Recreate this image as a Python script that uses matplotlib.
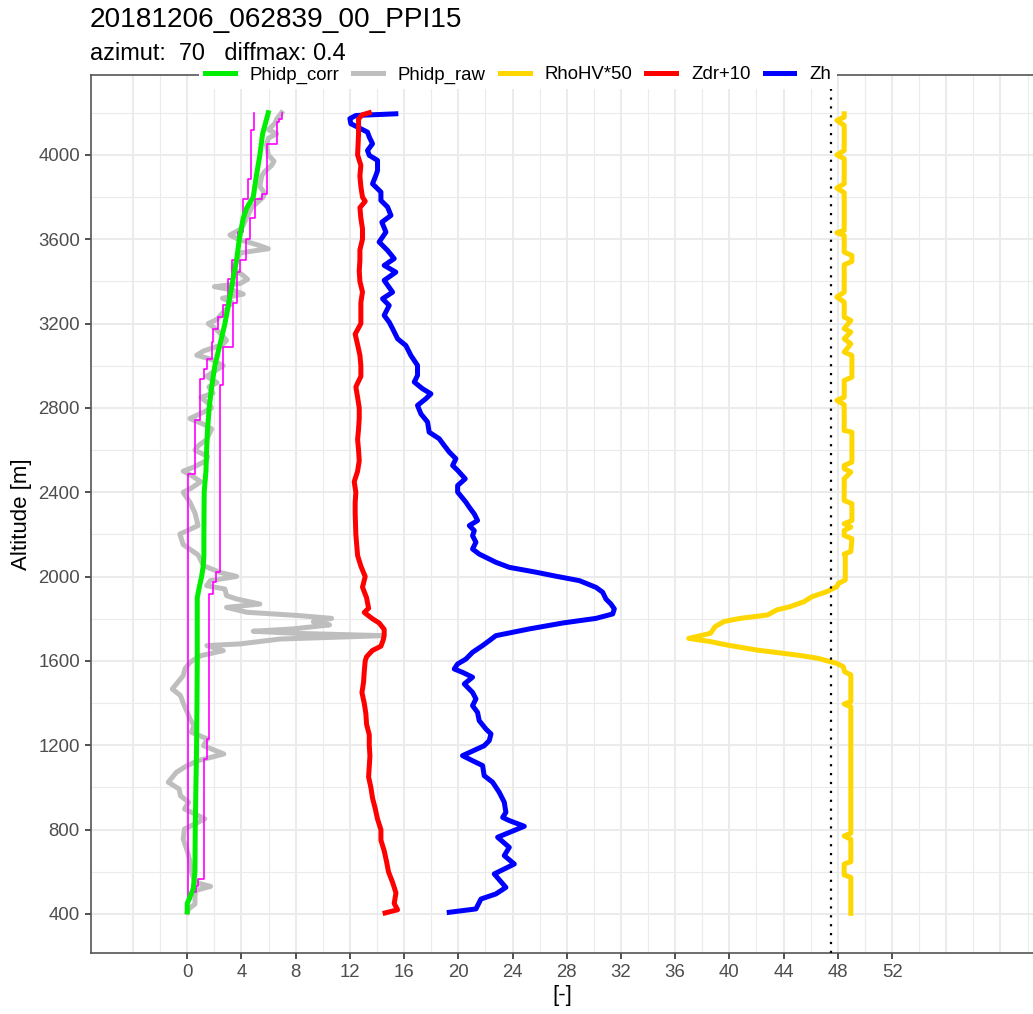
import matplotlib.pyplot as plt
from matplotlib.lines import Line2D

plt.rcParams['font.family'] = ['Liberation Sans', 'DejaVu Sans']

# ---- data ----
title = "20181206_062839_00_PPI15"
subtitle = "azimut:  70   diffmax: 0.4"

# Phidp_corr (green)
alt_corr = [4200, 4100, 4000, 3900, 3800, 3750, 3700, 3600, 3500, 3400, 3300, 3200, 3100,
            3000, 2900, 2800, 2700, 2600, 2500, 2400, 2200, 2100, 2050, 2000, 1950, 1900,
            1600, 1400, 1200, 1000, 800, 600, 520, 480, 450, 410]
phidp_corr = [5.98, 5.56, 5.36, 5.1, 4.87, 4.4, 4.13, 3.84, 3.64, 3.35, 3.07, 2.78, 2.41,
              2.04, 1.8, 1.62, 1.5, 1.43, 1.38, 1.25, 1.23, 1.23, 1.18, 1.06, 0.89, 0.74,
              0.74, 0.72, 0.69, 0.64, 0.59, 0.57, 0.44, 0.2, 0.0, 0.0]

# envelope of Phidp_corr (magenta steps): each value holds from its altitude down to the next
alt_env_hi = [4200, 4172, 4156, 4053, 3816, 3792, 3700, 3600, 3500, 3444, 3299, 3089, 2907,
              2020, 1973, 1918, 1230, 1135, 566, 534, 503, 470, 410]
env_hi = [6.96, 6.8, 6.6, 5.9, 5.49, 5.0, 4.6, 4.3, 3.89, 3.64, 3.4, 2.66, 2.41,
          2.12, 1.87, 1.62, 1.48, 1.23, 0.81, 0.64, 0.3, 0.05, 0.05]
alt_env_lo = [4200, 4116, 3887, 3792, 3634, 3500, 3413, 3286, 3231, 3176, 3112, 3033, 2986,
              2938, 2741, 2488, 410]
env_lo = [4.92, 4.67, 4.5, 4.13, 3.75, 3.27, 3.03, 2.66, 2.29, 1.92, 1.8, 1.43, 1.23,
          0.93, 0.57, 0.03, 0.03]

# Phidp_raw (grey)
alt_raw = [4200, 4170, 4150, 4120, 4100, 4080, 4050, 4000, 3970, 3950, 3920, 3900, 3850, 3820,
           3800, 3750, 3700, 3650, 3620, 3600, 3575, 3555, 3535, 3500, 3460, 3430, 3410, 3390,
           3375, 3360, 3340, 3320, 3300, 3270, 3250, 3220, 3200, 3180, 3150, 3120, 3100, 3070,
           3050, 3030, 3000, 2970, 2950, 2920, 2900, 2870, 2850, 2820, 2800, 2780, 2750, 2720,
           2700, 2650, 2620, 2600, 2570, 2550, 2520, 2500, 2480, 2450, 2420, 2400, 2352, 2302,
           2242, 2202, 2152, 2103, 2052, 2020, 2001, 1981, 1957, 1941, 1910, 1894, 1870, 1854,
           1831, 1815, 1802, 1786, 1771, 1752, 1741, 1731, 1720, 1704, 1681, 1673, 1649, 1625,
           1594, 1562, 1530, 1491, 1467, 1436, 1401, 1357, 1325, 1293, 1262, 1230, 1198, 1159,
           1127, 1104, 1072, 1025, 993, 961, 930, 898, 851, 803, 756, 700, 650, 601, 550, 531,
           511, 479, 447, 424, 408]
phidp_raw = [6.96, 6.6, 6.47, 6.0, 6.6, 6.0, 5.85, 5.98, 6.4, 6.22, 5.7, 5.49, 5.36, 5.7,
             5.61, 4.75, 4.38, 4.0, 3.15, 3.76, 5.1, 5.98, 3.89, 3.64, 3.4, 4.1, 4.45, 3.9,
             2.0, 3.3, 4.13, 2.6, 3.3, 2.9, 2.6, 2.2, 1.55, 2.0, 2.5, 2.9, 2.6, 1.2,
             0.7, 1.8, 2.66, 1.9, 1.43, 2.2, 1.6, 1.9, 1.0, 1.6, 1.8, 1.2, 0.2, 1.3,
             1.8, 1.43, 0.8, 0.57, 1.5, 1.4, 0.5, -0.3, 0.3, 1.0, 0.3, -0.3, 0.2, 0.57,
             0.8, -0.54, -0.3, 0.8, 1.2, 2.41, 3.64, 1.7, 1.43, 2.78, 2.9, 3.64, 5.36, 2.9,
             4.4, 8.3, 10.65, 9.3, 10.5, 7.8, 4.87, 8.0, 14.47, 6.84, 3.9, 1.45, 2.66, 1.0,
             0.2, -0.17, -0.3, -0.8, -1.1, -0.5, -0.3, 0.0, 0.2, 0.5, 0.3, 1.5, 1.2, 2.7,
             0.8, 0.0, -0.8, -1.4, -0.6, -0.5, 0.1, -0.2, 1.3, -0.2, -0.3, 0.0, 0.2, 0.3, 0.57, 1.72,
             0.6, 0.57, 0.57, 0.1, 0.0]

# Zdr+10 (red)
alt_zdr = [4200, 4190, 4170, 4100, 4000, 3950, 3900, 3850, 3800, 3780, 3750, 3700, 3650, 3600,
           3550, 3500, 3450, 3400, 3350, 3300, 3250, 3200, 3150, 3100, 3050, 3000, 2950, 2900,
           2850, 2800, 2750, 2700, 2650, 2600, 2550, 2500, 2450, 2400, 2350, 2300, 2200, 2100,
           2050, 2000, 1950, 1900, 1850, 1830, 1800, 1780, 1750, 1720, 1700, 1670, 1650, 1620,
           1600, 1550, 1500, 1450, 1400, 1350, 1300, 1250, 1200, 1150, 1100, 1050, 1000, 950,
           900, 850, 800, 750, 700, 650, 600, 550, 500, 450, 420, 405]
zdr10 = [13.43, 12.9, 12.64, 12.64, 12.57, 12.81, 12.74, 12.81, 12.93, 13.13, 12.74, 12.81,
         12.93, 12.93, 12.74, 12.74, 12.69, 12.74, 12.93, 12.81, 12.81, 12.81, 12.39, 12.57,
         12.74, 12.81, 12.81, 12.44, 12.57, 12.69, 12.69, 12.64, 12.57, 12.64, 12.69, 12.57,
         12.32, 12.44, 12.39, 12.39, 12.44, 12.57, 12.81, 13.13, 12.93, 13.23, 13.38, 13.06,
         13.67, 14.16, 14.53, 14.53, 14.46, 14.29, 13.67, 13.23, 13.13, 13.06, 13.01, 12.89,
         13.06, 13.18, 13.23, 13.43, 13.43, 13.48, 13.43, 13.38, 13.55, 13.67, 13.87, 14.04,
         14.29, 14.29, 14.53, 14.7, 14.85, 15.15, 15.4, 15.27, 15.52, 14.6]

# Zh (blue)
alt_zh = [4195, 4187, 4172, 4148, 4124, 4108, 4085, 4053, 4021, 3998, 3974, 3926, 3903, 3863,
          3824, 3784, 3753, 3713, 3681, 3634, 3587, 3547, 3508, 3476, 3444, 3405, 3349, 3318,
          3286, 3239, 3207, 3176, 3128, 3096, 3049, 3002, 2954, 2923, 2891, 2867, 2844, 2812,
          2772, 2733, 2685, 2654, 2622, 2591, 2559, 2527, 2504, 2464, 2432, 2401, 2353, 2329,
          2297, 2266, 2242, 2218, 2194, 2163, 2131, 2107, 2068, 2044, 2021, 2002, 1981, 1949,
          1926, 1894, 1870, 1847, 1823, 1802, 1780, 1752, 1720, 1696, 1673, 1641, 1609, 1586,
          1562, 1546, 1523, 1491, 1451, 1420, 1388, 1356, 1317, 1277, 1254, 1222, 1198, 1151,
          1127, 1104, 1056, 1025, 977, 930, 882, 858, 843, 816, 764, 716, 677, 637, 590, 526,
          495, 471, 424, 408]
zh = [15.39, 12.44, 12.0, 12.07, 12.81, 13.3, 13.43, 13.67, 13.3, 13.43, 14.04, 14.04, 13.92,
      13.67, 14.29, 14.29, 14.78, 15.03, 14.36, 14.66, 14.16, 14.78, 15.27, 14.53, 15.39, 14.53,
      15.15, 14.41, 14.9, 14.53, 14.9, 15.15, 15.52, 16.13, 16.5, 16.99, 16.99, 16.75, 17.36,
      17.98, 17.61, 16.99, 17.24, 17.73, 17.85, 18.59, 18.96, 19.33, 19.82, 19.58, 19.95, 20.51,
      19.95, 19.95, 20.56, 20.81, 21.18, 21.42, 20.81, 21.18, 21.05, 21.3, 21.05, 21.54, 22.77,
      23.76, 25.73, 27.2, 28.93, 30.16, 30.65, 30.89, 31.26, 31.51, 31.39, 30.16, 27.7, 25.24,
      22.77, 22.28, 21.79, 21.05, 20.56, 19.95, 19.7, 20.31, 21.05, 20.44, 21.05, 21.3, 21.05,
      21.42, 21.54, 22.04, 22.41, 22.28, 21.91, 20.31, 21.05, 21.79, 21.91, 22.53, 23.02, 23.39,
      23.51, 23.27, 23.76, 24.87, 22.9, 23.76, 23.39, 24.13, 22.65, 23.51, 22.77, 21.67, 21.3,
      19.33]

# RhoHV*50 (gold)
alt_rho = [4195, 4179, 4164, 4140, 4021, 4000, 3982, 3863, 3843, 3821, 3642, 3631, 3618, 3539,
           3523, 3495, 3479, 3349, 3326, 3302, 3231, 3215, 3176, 3160, 3128, 3104, 3065, 3049,
           2946, 2930, 2851, 2836, 2815, 2693, 2685, 2543, 2527, 2512, 2496, 2464, 2361, 2346,
           2266, 2251, 2235, 2219, 2195, 2180, 2119, 2107, 2095, 1984, 1968, 1953, 1929, 1905,
           1881, 1858, 1842, 1818, 1802, 1787, 1763, 1731, 1707, 1692, 1676, 1652, 1628, 1613,
           1589, 1573, 1549, 1534, 1407, 1396, 1383, 783, 770, 754, 648, 637, 585, 574, 403]
rho50 = [48.47, 48.47, 47.93, 48.47, 48.47, 47.93, 48.47, 48.47, 47.93, 48.47, 48.47, 47.93,
         48.47, 48.47, 49.04, 49.04, 48.47, 48.47, 47.93, 48.47, 48.47, 48.96, 48.47, 48.96,
         48.47, 48.96, 48.47, 49.04, 49.04, 48.47, 48.47, 47.93, 48.47, 48.47, 49.04, 49.04,
         48.47, 48.47, 48.96, 48.47, 48.47, 49.04, 49.04, 48.47, 48.96, 48.47, 48.47, 49.04,
         48.96, 48.47, 48.55, 48.55, 48.05, 47.93, 47.2, 46.1, 45.5, 44.5, 43.5, 42.8, 40.8,
         39.6, 38.95, 38.6, 37.0, 38.6, 39.8, 42.0, 45.0, 46.5, 47.9, 48.4, 48.5, 48.96, 48.96,
         48.47, 48.96, 48.96, 48.47, 48.96, 48.96, 48.47, 48.47, 48.96, 48.96]

rho_threshold = 47.5

x_breaks = list(range(0, 53, 4))
y_breaks = list(range(400, 4001, 400))

# ---- figure ----
fig = plt.figure(figsize=(10.33, 10.14), dpi=100)
ax = fig.add_axes([91 / 1033, 1 - 953 / 1014, 1 - 91 / 1033, (953 - 75) / 1014])

# ggplot-like grid
for gx in range(-4, 63, 2):
    ax.axvline(gx, color='#EBEBEB', lw=1.5 if gx % 4 == 0 else 0.8, zorder=0)
for gy in range(400, 4400, 200):
    ax.axhline(gy, color='#EBEBEB', lw=1.5 if gy % 400 == 0 else 0.8, zorder=0)

lw = 3.6
ax.plot(phidp_raw, alt_raw, color='#BEBEBE', lw=lw, solid_joinstyle='round', zorder=2)
ax.plot(env_hi, alt_env_hi, color='#FF00FF', lw=1.2, drawstyle='steps-pre', zorder=3)
ax.plot(env_lo, alt_env_lo, color='#FF00FF', lw=1.2, drawstyle='steps-pre', zorder=3)
ax.plot(phidp_corr, alt_corr, color='#00EE00', lw=lw, zorder=4)
ax.plot(rho50, alt_rho, color='#FFD700', lw=lw, solid_joinstyle='round', zorder=4)
ax.plot(zh, alt_zh, color='#0000FF', lw=lw, solid_joinstyle='round', zorder=4)
ax.plot(zdr10, alt_zdr, color='#FF0000', lw=lw, solid_joinstyle='round', zorder=5)
ax.axvline(rho_threshold, color='black', lw=1.6, ls=(0, (1, 3)), zorder=5)

ax.set_xlim(-7.1, 62.4)
ax.set_ylim(215, 4379)
ax.set_xticks(x_breaks)
ax.set_yticks(y_breaks)
ax.tick_params(colors='#333333', labelcolor='#4D4D4D', labelsize=13.4, length=4, width=1.2, pad=4)
for s in ['left', 'bottom', 'top']:
    ax.spines[s].set_color('#555555')
    ax.spines[s].set_linewidth(1.2)
ax.spines['right'].set_visible(False)

ax.set_xlabel('[-]', fontsize=16, labelpad=3)
ax.set_ylabel('Altitude [m]', fontsize=16)

fig.text(90 / 1033, 1 - 27 / 1014, title, fontsize=20.2, va='baseline', ha='left')
fig.text(90 / 1033, 1 - 60 / 1014, subtitle, fontsize=16.9, va='baseline', ha='left')

handles = [Line2D([], [], color=c, lw=lw) for c in ['#00EE00', '#BEBEBE', '#FFD700', '#FF0000', '#0000FF']]
labels = ['Phidp_corr', 'Phidp_raw', 'RhoHV*50', 'Zdr+10', 'Zh']
leg = fig.legend(handles, labels, ncol=5, loc='center', bbox_to_anchor=(518 / 1033, 1 - 75 / 1014),
                 frameon=True, fontsize=13.4, handlelength=1.6, handletextpad=0.8,
                 columnspacing=0.75, borderpad=0.3)
leg.get_frame().set_facecolor('white')
leg.get_frame().set_edgecolor('none')
leg.get_frame().set_alpha(1)
leg.get_frame().set_boxstyle('square', pad=0)

fig.savefig('out.png', dpi=100)
